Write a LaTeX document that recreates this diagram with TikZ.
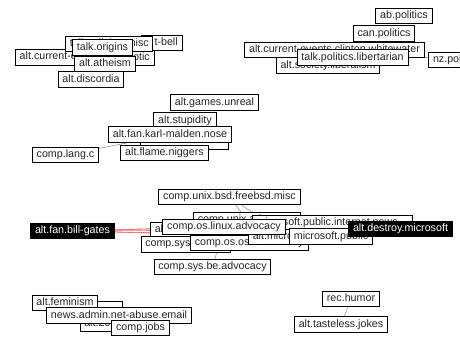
\documentclass[tikz,border=0pt]{standalone}
\usepackage{fontspec}
\setmainfont{Liberation Sans}
\usetikzlibrary{backgrounds}
\newcommand\gfont{\fontsize{10.7}{12}\selectfont}
\tikzset{
  nbox/.style={draw=black, fill=white, line width=0.9pt, font=\gfont, text=black!85,
    inner xsep=4.3pt, inner ysep=2.85pt, text height=7.6pt, text depth=2.2pt},
  blk/.style={nbox, fill=black, text=white},
  fixw/.style={nbox, anchor=north west, text width=#1, align=left},
  fixwr/.style={nbox, anchor=north west, text width=#1, align=right},
  edge/.style={draw=black!40, line width=0.6pt},
  redge/.style={draw={rgb,255:red,238;green,110;blue,110}, line width=0.6pt},
}
\begin{document}
\begin{tikzpicture}[x=1pt,y=-1pt]
\useasboundingbox (0,0) rectangle (460,345);
% top-left cluster
\node[fixw=90pt] (ace) at (15,49) {alt.current-events};
\node[fixwr=45pt] (otic) at (100,49.5) {otic};
\node[fixwr=32pt] (bell) at (141,35) {t-bell};
\node[fixw=78pt] (trm) at (65,36) {talk.religion.misc};
\node[nbox] (origins) at (102.5,47.5) {talk.origins};
\node[nbox] (atheism) at (105,64) {alt.atheism};
\node[nbox] (discordia) at (91,79.5) {alt.discordia};
% top-right cluster
\node[nbox] (abpol) at (404,16) {ab.politics};
\node[nbox] (canpol) at (384,33.5) {can.politics};
\node[nbox] (whitewater) at (334.5,50) {alt.current-events.clinton.whitewater};
\node[nbox] (liberalism) at (328,65.5) {alt.society.liberalism};
\node[nbox] (libertarian) at (352.5,57.5) {talk.politics.libertarian};
\node[nbox] (nzpol) at (456.5,60) {nz.politics};
% middle cluster
\node[nbox] (unreal) at (214.5,102.5) {alt.games.unreal};
\node[nbox] (stupidity) at (185,120.5) {alt.stupidity};
\node[fixw=79pt] (hidden1) at (140,133) {};
\node[nbox] (karl) at (170,134.5) {alt.fan.karl-malden.nose};
\node[nbox] (flame) at (164.5,153) {alt.flame.niggers};
\node[nbox] (langc) at (65.5,155) {comp.lang.c};
% bottom cluster
\node[blk] (billgates) at (72.5,231) {alt.fan.bill-gates};
\node[fixw=51pt] (altwin) at (150,221.5) {alt};
\node[fixw=81pt] (compsys) at (140.5,236) {comp.sys};
\node[fixw=109pt] (os2) at (190,234.5) {comp.os.os2.advocacy};
\node[fixw=98pt] (compunix) at (193,211.5) {comp.unix.advocacy};
\node[fixw=151pt] (msinet) at (252,215) {microsoft.public.internet.news};
\node[fixw=71pt] (altmic) at (248,228.5) {alt.microsoft};
\node[nbox] (linux) at (224,227) {comp.os.linux.advocacy};
\node[nbox] (mspublic) at (331,236.5) {microsoft.public};
\node[blk] (destroy) at (400.5,229) {alt.destroy.microsoft};
\node[nbox] (freebsd) at (229.5,197) {comp.unix.bsd.freebsd.misc};
\node[nbox] (beadv) at (212.5,267) {comp.sys.be.advocacy};
% bottom-left cluster
\node[fixw=28pt] (hidden2) at (85,301) {};
\node[fixw=36pt] (alt2600) at (79.5,315.5) {alt.2600};
\node[nbox] (feminism) at (65,303) {alt.feminism};
\node[nbox] (newsadmin) at (119,315.5) {news.admin.net-abuse.email};
\node[nbox] (jobs) at (140.5,328) {comp.jobs};
% bottom-right
\node[nbox] (humor) at (351,299) {rec.humor};
\node[nbox] (tasteless) at (341,324.5) {alt.tasteless.jokes};
% connectors and background
\begin{pgfonlayer}{background}
\fill[white] (0,0) rectangle (460,345);
\draw[edge] (whitewater.center) -- (nzpol.center);
\draw[edge] (langc.center) -- (karl.center);
\draw[edge] (humor.center) -- (tasteless.center);
\draw[edge] (freebsd.center) -- (compunix.center);
\draw[edge] (freebsd.center) -- (altmic.center);
\draw[edge] (beadv.center) -- (linux.center);
\draw[redge] (billgates.center) -- (linux.center);
\draw[redge] (billgates.center) -- (msinet.center);
\draw[redge] (billgates.center) -- (altmic.center);
\draw[redge] (billgates.center) -- (mspublic.center);
\draw[redge] (billgates.center) -- (destroy.center);
\end{pgfonlayer}
\end{tikzpicture}
\end{document}
